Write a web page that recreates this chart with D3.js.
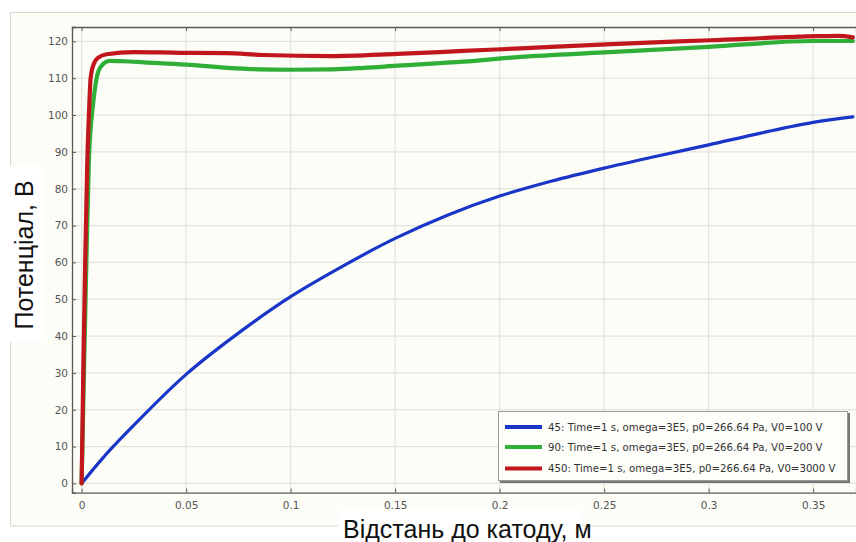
<!DOCTYPE html>
<html>
<head>
<meta charset="utf-8">
<script src="https://cdn.jsdelivr.net/npm/d3@7"></script>
<style>
  body { margin: 0; background: #fff; }
  svg { display: block; }
</style>
</head>
<body>
<div id="chart"></div>
<script>

// values
var blueX = [0, 0.01, 0.025, 0.05, 0.075, 0.1, 0.125, 0.15, 0.175, 0.2, 0.225, 0.25, 0.275, 0.3, 0.325, 0.35, 0.369];
var blueY = [0, 6.8, 15.8, 29.6, 40.8, 50.7, 59.0, 66.5, 72.8, 78.0, 82.1, 85.6, 88.8, 91.9, 95.1, 98.0, 99.5];

var greenX = [0, 0.0012, 0.0022, 0.0035, 0.0055, 0.0072, 0.009, 0.0135, 0.02, 0.03, 0.05, 0.07, 0.085, 0.1, 0.12, 0.135, 0.151, 0.1826, 0.21, 0.25, 0.3, 0.35, 0.369];
var greenY = [0, 32, 58, 88, 103, 110, 113, 114.7, 114.6, 114.3, 113.7, 112.8, 112.4, 112.3, 112.4, 112.8, 113.4, 114.5, 115.8, 117.0, 118.5, 120.1, 120.1];

var redX = [0, 0.0008, 0.0017, 0.0027, 0.0037, 0.0043, 0.0059, 0.008, 0.012, 0.025, 0.047, 0.069, 0.087, 0.119, 0.151, 0.1826, 0.21, 0.251, 0.301, 0.352, 0.362, 0.369];
var redY = [0, 30, 60, 87, 103, 110, 114, 115.6, 116.5, 117.1, 116.9, 116.8, 116.3, 116.0, 116.6, 117.4, 118.1, 119.2, 120.3, 121.4, 121.5, 121.1];

var xTicks = [0, 0.05, 0.1, 0.15, 0.2, 0.25, 0.3, 0.35];
var yTicks = [0, 10, 20, 30, 40, 50, 60, 70, 80, 90, 100, 110, 120];

var seriesNames = [
  "45: Time=1 s, omega=3E5, p0=266.64 Pa, V0=100 V",
  "90: Time=1 s, omega=3E5, p0=266.64 Pa, V0=200 V",
  "450: Time=1 s, omega=3E5, p0=266.64 Pa, V0=3000 V"
];
var seriesColors = ["#1a36c8", "#2fae38", "#c0161c"];

var width = 856, height = 542;
var svg = d3.select("#chart").append("svg").attr("width", width).attr("height", height);

// panel
svg.append("rect").attr("x", 10.5).attr("y", 12.5).attr("width", 850).attr("height", 513.5)
  .attr("fill", "#fdfdf7").attr("stroke", "#d6d6d2");

var pLeft = 72, pRight = 856, pTop = 27, pBottom = 492.6;
var x = d3.scaleLinear().domain([-0.0046, 0.3705]).range([pLeft, pRight]);
var y = d3.scaleLinear().domain([-2.5, 123.9]).range([pBottom, pTop]);

// grid
var grid = svg.append("g");
grid.selectAll(".gx").data(xTicks).enter().append("line")
  .attr("x1", function (d) { return x(d); }).attr("x2", function (d) { return x(d); })
  .attr("y1", pTop).attr("y2", pBottom)
  .attr("stroke", "#e4e4de").attr("stroke-width", 1.2);
grid.selectAll(".gy").data(yTicks).enter().append("line")
  .attr("x1", pLeft).attr("x2", pRight)
  .attr("y1", function (d) { return y(d); }).attr("y2", function (d) { return y(d); })
  .attr("stroke", "#e4e4de").attr("stroke-width", 1.2);

// axes
var fmt = function (d) { return d3.format("~g")(d); };
var gx = svg.append("g").attr("transform", "translate(0," + pBottom + ")")
  .call(d3.axisBottom(x).tickValues(xTicks).tickSize(-4).tickPadding(9).tickFormat(fmt));
var gxTop = svg.append("g").attr("transform", "translate(0," + pTop + ")")
  .call(d3.axisTop(x).tickValues(xTicks).tickSize(-4).tickFormat(""));
var gy = svg.append("g").attr("transform", "translate(" + pLeft + ",0)")
  .call(d3.axisLeft(y).tickValues(yTicks).tickSize(-4).tickPadding(4));

[gx, gxTop, gy].forEach(function (g) {
  g.select(".domain").attr("stroke", "#5a5a5a").attr("stroke-width", 1.3);
  g.selectAll(".tick line").attr("stroke", "#5a5a5a");
  g.selectAll("text").attr("fill", "#555").style("font-family", "DejaVu Sans").style("font-size", "10.5px");
});

// lines
svg.append("clipPath").attr("id", "clip").append("rect")
  .attr("x", pLeft).attr("y", pTop - 6).attr("width", pRight - pLeft).attr("height", pBottom - pTop + 6);

var line = d3.line()
  .x(function (d) { return x(d[0]); })
  .y(function (d) { return y(d[1]); })
  .curve(d3.curveMonotoneX);

var series = [
  { xs: blueX, ys: blueY, w: 3.2 },
  { xs: greenX, ys: greenY, w: 4.2 },
  { xs: redX, ys: redY, w: 4.2 }
];
var plot = svg.append("g").attr("clip-path", "url(#clip)");
series.forEach(function (s, i) {
  var pts = s.xs.map(function (v, k) { return [v, s.ys[k]]; });
  plot.append("path").datum(pts).attr("d", line)
    .attr("fill", "none").attr("stroke", seriesColors[i]).attr("stroke-width", s.w)
    .attr("stroke-linejoin", "round").attr("stroke-linecap", "round");
});

// legend
var lg = svg.append("g").attr("transform", "translate(498,411)");
lg.append("rect").attr("x", 2).attr("y", 2).attr("width", 350).attr("height", 70).attr("fill", "#777");
lg.append("rect").attr("x", 0.5).attr("y", 0.5).attr("width", 349).attr("height", 69)
  .attr("fill", "#fdfdf9").attr("stroke", "#999");
seriesNames.forEach(function (name, i) {
  var yy = [16, 36, 57.5][i];
  lg.append("line").attr("x1", 7).attr("x2", 44).attr("y1", yy).attr("y2", yy)
    .attr("stroke", seriesColors[i]).attr("stroke-width", 4);
  lg.append("text").attr("x", 50).attr("y", yy + 3.5).text(name)
    .attr("fill", "#333").style("font-family", "DejaVu Sans").style("font-size", "10.2px");
});

// axis titles with white boxes
svg.append("rect").attr("x", 0).attr("y", 166).attr("width", 42).attr("height", 176).attr("fill", "#fff");
svg.append("text").attr("transform", "translate(33,255) rotate(-90)")
  .attr("text-anchor", "middle").text("Потенціал, В")
  .style("font-family", "Liberation Sans").style("font-size", "25px").attr("fill", "#111");

svg.append("rect").attr("x", 338).attr("y", 510).attr("width", 244).attr("height", 32).attr("fill", "#fff");
svg.append("text").attr("x", 343).attr("y", 537.5).text("Відстань до катоду, м")
  .style("font-family", "Liberation Sans").style("font-size", "25px").attr("fill", "#111");

</script>
</body>
</html>
